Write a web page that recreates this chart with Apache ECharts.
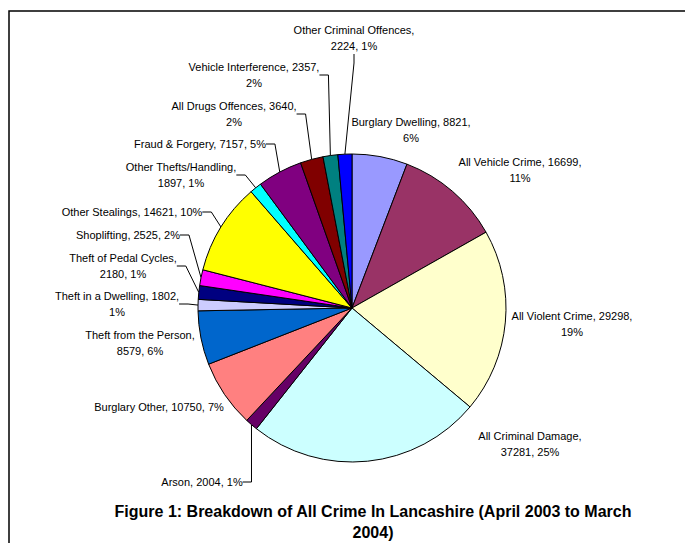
<!DOCTYPE html>
<html>
<head>
<meta charset="utf-8">
<script src="https://cdn.jsdelivr.net/npm/echarts@6/dist/echarts.min.js"></script>
<style>
html,body{margin:0;padding:0;background:#fff;}
#chart{width:685px;height:543px;}
</style>
</head>
<body>
<div id="chart"></div>
<script>
// ---- data ----
var categories = [
  'Burglary Dwelling', 'All Vehicle Crime', 'All Violent Crime', 'All Criminal Damage',
  'Arson', 'Burglary Other', 'Theft from the Person', 'Theft in a Dwelling',
  'Theft of Pedal Cycles', 'Shoplifting', 'Other Stealings', 'Other Thefts/Handling',
  'Fraud & Forgery', 'All Drugs Offences', 'Vehicle Interference', 'Other Criminal Offences'
];
var values = [8821, 16699, 29298, 37281, 2004, 10750, 8579, 1802, 2180, 2525, 14621, 1897, 7157, 3640, 2357, 2224];
// where each label wraps: 0 = one line, 1 = after name, 2 = after value
var labelBreaks = [2, 2, 2, 1, 0, 0, 1, 2, 1, 0, 0, 1, 0, 2, 2, 1];
var titleText = 'Figure 1: Breakdown of All Crime In Lancashire (April 2003 to March\n2004)';

// ---- styles / layout ----
var palette = ['#9999FF', '#993366', '#FFFFCC', '#CCFFFF', '#660066', '#FF8080', '#0066CC', '#CCCCFF',
               '#000080', '#FF00FF', '#FFFF00', '#00FFFF', '#800080', '#800000', '#008080', '#0000FF'];
// label block centres (as placed in the original chart)
var labelPos = [
  [411, 130], [520, 170], [572, 324], [530, 444],
  [202, 482], [159, 407], [140, 343], [117, 304],
  [123, 266], [128, 235], [132, 212], [181, 175],
  [200, 144], [234, 114], [254, 75], [354, 38]
];
var showLeader = [false, false, false, false, true, false, false, true,
                  true, true, true, true, true, true, true, true];

var total = values.reduce(function (a, b) { return a + b; }, 0);
var seriesData = categories.map(function (c, i) {
  return {
    name: c,
    value: values[i],
    itemStyle: { color: palette[i] },
    labelLine: { show: showLeader[i] }
  };
});

var chart = echarts.init(document.getElementById('chart'), null, { renderer: 'svg' });
chart.setOption({
  animation: false,
  backgroundColor: '#fff',
  graphic: [
    {
      type: 'rect', z: -10, silent: true,
      shape: { x: 9, y: 11, width: 1000, height: 1000 },
      style: { fill: 'none', stroke: '#000', lineWidth: 1.5 }
    },
    {
      type: 'text', silent: true,
      x: 373, y: 522,
      style: {
        text: titleText, align: 'center', verticalAlign: 'middle',
        font: 'bold 16px "Liberation Sans", Arial, sans-serif', lineHeight: 21, fill: '#000'
      }
    }
  ],
  series: [{
    type: 'pie',
    center: [352, 308],
    radius: 154,
    startAngle: 90,
    clockwise: true,
    avoidLabelOverlap: false,
    emphasis: { scale: false },
    itemStyle: { borderColor: '#000', borderWidth: 1 },
    label: {
      show: true,
      position: 'outside',
      fontFamily: '"Liberation Sans", Arial, sans-serif',
      fontSize: 11,
      lineHeight: 16,
      color: '#000',
      align: 'center',
      formatter: function (p) {
        var i = p.dataIndex;
        var pct = Math.round(values[i] / total * 100) + '%';
        var b = labelBreaks[i];
        var s1 = b === 1 ? ',\n' : ', ';
        var s2 = b === 2 ? ',\n' : ', ';
        return p.name + s1 + p.value + s2 + pct;
      }
    },
    labelLine: {
      show: true,
      length: 10,
      length2: 9,
      lineStyle: { color: '#000', width: 1 }
    },
    labelLayout: function (params) {
      var pos = labelPos[params.dataIndex];
      return { x: pos[0], y: pos[1], align: 'center', verticalAlign: 'middle' };
    },
    data: seriesData
  }]
});
</script>
</body>
</html>
